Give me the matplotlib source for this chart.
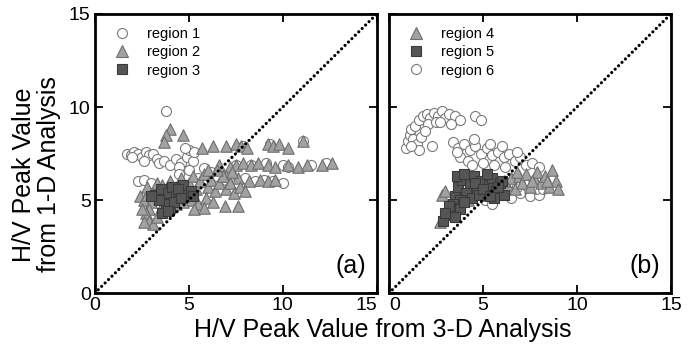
import matplotlib
matplotlib.use("Agg")
import matplotlib.pyplot as plt
from matplotlib.lines import Line2D

plt.rcParams['font.family'] = ['Liberation Sans', 'DejaVu Sans']

# ---------------- Panel (a) data ----------------
r1_x = [1.7, 1.9, 2.1, 2.3, 2.5, 2.7, 2.9, 3.1, 3.3, 2.0, 2.6,
        3.4, 3.7, 4.0, 4.3, 4.6, 4.9, 5.2, 4.5,
        5.0, 5.3, 4.8, 3.8,
        2.3, 2.6, 3.0, 5.5, 6.0, 6.5, 7.0, 7.5, 8.0, 8.5, 9.0, 9.5, 10.0,
        7.5, 8.3, 9.1, 10.0, 10.3, 11.5, 12.3,
        7.9, 9.3, 11.1, 4.5, 5.0, 5.8, 6.2]
r1_y = [7.5, 7.4, 7.6, 7.5, 7.3, 7.6, 7.4, 7.5, 7.2, 7.3, 7.1,
        7.0, 7.1, 6.9, 7.2, 7.0, 7.3, 7.1, 6.8,
        7.7, 7.6, 7.8, 9.8,
        6.0, 6.1, 5.9, 6.2, 6.0, 6.3, 6.1, 5.9, 6.2, 6.0, 6.1, 6.0, 5.9,
        6.9, 6.9, 7.0, 6.9, 6.8, 6.9, 7.0,
        7.9, 8.0, 8.2, 6.4, 6.6, 6.7, 6.5]

r2_x = [4.0, 3.8, 4.7, 3.7,
        5.7, 6.3, 7.0, 7.5, 7.8, 8.1, 9.2, 9.5, 9.8, 10.3, 11.1,
        6.6, 7.2, 7.5, 7.9, 8.3, 8.7, 9.2, 9.6, 10.3, 10.8, 11.3, 12.1, 12.6,
        8.8, 9.2, 9.6, 7.0, 7.6, 8.2,
        2.4, 2.6, 2.8, 3.0, 3.2, 3.4, 3.6, 3.8, 4.0, 4.2, 4.4, 4.6, 4.8, 5.0,
        5.2, 5.4, 5.6, 5.8, 6.0, 6.2, 6.4, 6.6, 6.8, 7.0, 7.2, 7.4, 7.7, 8.0,
        5.1, 5.5, 5.9, 6.3, 4.3, 4.7, 3.5, 2.9,
        5.3, 5.8, 6.9, 7.6, 3.3, 2.8, 6.0, 6.5, 7.3,
        2.7, 2.9, 3.1, 2.6, 3.3, 2.5]
r2_y = [8.8, 8.5, 8.5, 8.1,
        7.8, 7.9, 7.9, 8.0, 7.9, 7.8, 8.0, 7.9, 8.0, 7.8, 8.2,
        6.9, 6.8, 6.9, 7.0, 6.9, 7.0, 6.9, 6.8, 6.9, 6.8, 6.9, 6.9, 7.0,
        6.1, 6.0, 6.1, 6.3, 6.2, 6.0,
        5.2, 5.0, 5.3, 4.9, 5.5, 5.1, 5.8, 5.3, 6.0, 5.4, 5.7, 6.2, 5.5, 5.9,
        6.3, 5.6, 6.0, 6.4, 5.7, 6.1, 5.5, 5.9, 6.3, 5.6, 5.9, 5.4, 5.7, 5.5,
        5.0, 4.8, 5.1, 4.9, 4.8, 4.9, 4.6, 4.5,
        4.5, 4.6, 4.7, 4.7, 5.9, 5.7, 6.6, 6.6, 6.5,
        4.3, 3.9, 3.7, 3.8, 4.1, 4.5]

r3_x = [3.2, 3.5, 3.7, 3.9, 4.1, 4.3, 4.5, 4.7, 4.9, 5.1,
        4.0, 3.8, 3.6, 4.2, 3.4, 4.4, 4.6, 5.2, 3.0, 3.9]
r3_y = [5.3, 5.6, 5.0, 5.4, 5.7, 5.2, 5.5, 5.8, 5.3, 5.5,
        4.6, 4.8, 4.3, 4.9, 5.0, 5.6, 5.1, 5.2, 5.2, 4.4]

# ---------------- Panel (b) data ----------------
r4_x = [6.3, 6.5, 6.7, 6.9, 7.1, 7.3, 7.5, 7.7, 7.9, 8.1, 8.3, 8.5, 8.7, 8.9, 9.0,
        6.1, 6.8, 7.6, 8.4, 5.8, 5.5, 2.8, 3.0, 2.7, 3.4, 4.2, 5.2, 6.0]
r4_y = [5.8, 6.2, 5.6, 6.3, 5.9, 6.4, 5.7, 6.2, 6.5, 5.9, 6.3, 5.7, 6.6, 6.0, 5.6,
        6.0, 6.5, 6.0, 6.0, 5.6, 5.5, 5.3, 5.5, 3.8, 4.3, 5.0, 5.3, 5.4]

r5_x = [3.5, 3.7, 3.9, 4.1, 4.3, 4.5, 4.7, 4.9, 5.1, 5.3, 5.5, 5.7, 5.9, 6.1,
        3.6, 4.0, 4.4, 4.8, 5.2, 5.6, 6.0, 3.8, 4.6, 5.0, 5.4, 5.8,
        3.4, 3.3, 3.1, 2.9, 3.6, 3.2, 3.8, 3.5, 4.0, 3.0]
r5_y = [5.2, 5.7, 6.1, 5.4, 5.9, 6.3, 5.6, 6.0, 5.3, 5.8, 6.2, 5.5, 5.9, 5.3,
        6.3, 6.4, 5.1, 5.3, 6.4, 5.1, 6.0, 5.0, 5.9, 5.6, 5.2, 5.7,
        4.8, 4.4, 4.2, 3.9, 4.6, 4.7, 4.5, 4.1, 4.9, 4.3]

r6_x = [0.9, 1.0, 1.1, 1.2, 1.3, 1.5, 1.4, 1.6, 1.8, 2.0, 2.2, 2.4, 2.6, 2.8, 3.0,
        3.2, 2.1, 2.5, 1.7, 1.9, 2.3, 1.6, 3.5, 3.8, 4.6, 4.9, 1.2, 2.7, 3.3,
        3.4, 3.7, 4.0, 4.3, 4.6, 4.9, 5.2, 5.5, 5.8, 6.1, 6.4, 6.7, 7.0, 7.3,
        7.6, 8.0, 3.8, 4.2, 5.0, 5.6, 6.2, 4.5, 5.4, 6.0, 6.8, 3.6, 4.4,
        5.1, 5.5, 6.0, 6.5, 7.0, 7.5, 8.0, 7.8, 6.8, 5.8, 7.2, 8.2]
r6_y = [7.8, 8.2, 8.5, 8.8, 8.3, 8.0, 9.0, 9.3, 9.5, 9.6, 9.4, 9.7, 9.5, 9.8, 9.4,
        9.6, 9.1, 9.2, 8.4, 8.7, 7.9, 7.7, 9.5, 9.3, 9.5, 9.3, 7.9, 9.2, 9.1,
        8.1, 7.8, 8.0, 7.7, 7.9, 7.5, 7.8, 7.4, 7.6, 7.3, 7.5, 7.1, 7.3, 6.9,
        7.0, 6.8, 7.3, 7.1, 7.0, 6.9, 6.8, 8.3, 8.0, 7.9, 7.6, 7.6, 6.9,
        5.0, 4.8, 5.3, 5.1, 5.4, 5.2, 5.3, 5.6, 5.7, 5.5, 5.9, 5.6]

ticks = [0, 5, 10, 15]

circ = dict(marker='o', s=52, facecolor='white', edgecolor='#7a7a7a', linewidths=0.8)
tri = dict(marker='^', s=68, facecolor='#a2a2a2', edgecolor='#6e6e6e', linewidths=0.8)
sq = dict(marker='s', s=44, facecolor='#555555', edgecolor='#3a3a3a', linewidths=0.8)

fig = plt.figure(figsize=(6.92, 3.49), dpi=100)
axa = fig.add_axes([0.137, 0.160, 0.4075, 0.800])
axb = fig.add_axes([0.562, 0.160, 0.4075, 0.800])

def style(ax, letter, left_labels):
    ax.plot([0, 15], [0, 15], color='black', linestyle=(0, (0.01, 1.5)),
            linewidth=2.3, dash_capstyle='round', zorder=5)
    ax.set_xlim(0, 15)
    ax.set_ylim(0, 15)
    ax.set_xticks(ticks)
    ax.set_yticks(ticks)
    ax.tick_params(direction='in', length=6, width=1.3, top=True, right=True,
                   labelsize=14, pad=3)
    if not left_labels:
        ax.tick_params(labelleft=False)
    for sp in ax.spines.values():
        sp.set_linewidth(2.0)
    ax.text(14.45, 1.1, letter, fontsize=18, ha='right', va='baseline')

# panel (a)
axa.scatter(r1_x, r1_y, zorder=2, **circ)
axa.scatter(r2_x, r2_y, zorder=3, **tri)
axa.scatter(r3_x, r3_y, zorder=4, **sq)
style(axa, '(a)', True)
ha = [Line2D([], [], linestyle='none', marker='o', markersize=7.2, markerfacecolor='white',
             markeredgecolor='#7a7a7a', markeredgewidth=0.8),
      Line2D([], [], linestyle='none', marker='^', markersize=8.2, markerfacecolor='#a2a2a2',
             markeredgecolor='#6e6e6e', markeredgewidth=0.8),
      Line2D([], [], linestyle='none', marker='s', markersize=6.6, markerfacecolor='#555555',
             markeredgecolor='#3a3a3a', markeredgewidth=0.8)]
leg_kw = dict(loc='upper left', bbox_to_anchor=(0.049, 0.975), frameon=False,
              fontsize=10.5, handletextpad=1.21, labelspacing=0.3, borderaxespad=0.0,
              handlelength=1.0, borderpad=0.4)
axa.legend(ha, ['region 1', 'region 2', 'region 3'], **leg_kw)

# panel (b)
axb.scatter(r6_x, r6_y, zorder=2, **circ)
axb.scatter(r4_x, r4_y, zorder=3, **tri)
axb.scatter(r5_x, r5_y, zorder=4, **sq)
style(axb, '(b)', False)
hb = [ha[1], ha[2], ha[0]]
axb.legend(hb, ['region 4', 'region 5', 'region 6'], **leg_kw)

# shift the adjoining tick labels apart, as in the reference
axa.get_xticklabels()[-1].set_horizontalalignment('right')
axb.get_xticklabels()[0].set_horizontalalignment('left')

fig.text(0.553, 0.054, 'H/V Peak Value from 3-D Analysis', ha='center', va='center', fontsize=18)
fig.text(0.053, 0.50, 'H/V Peak Value\nfrom 1-D Analysis', ha='center', va='center',
         rotation=90, fontsize=18, linespacing=1.08)

fig.savefig('out.png', dpi=100)
